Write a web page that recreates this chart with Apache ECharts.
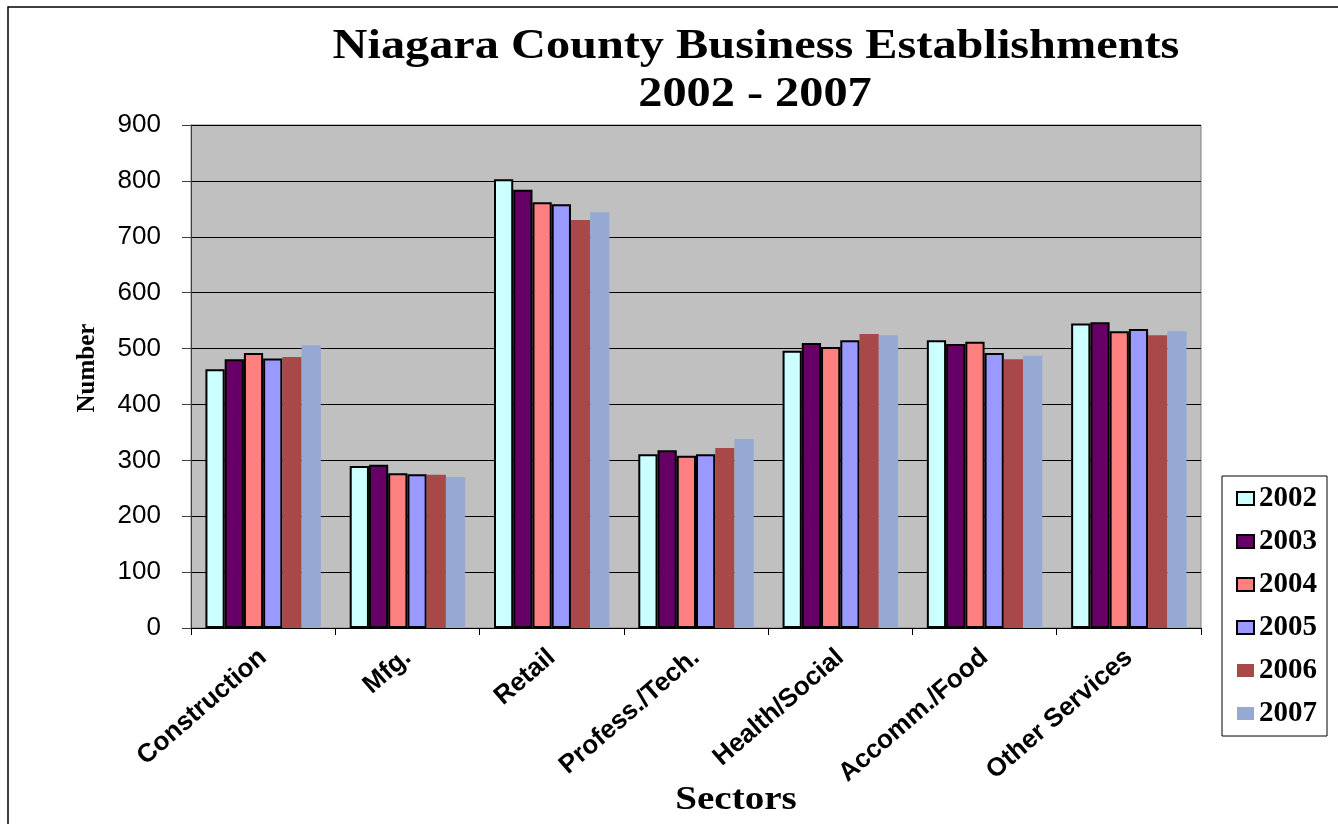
<!DOCTYPE html>
<html>
<head>
<meta charset="utf-8">
<script src="https://cdn.jsdelivr.net/npm/echarts@6/dist/echarts.min.js"></script>
<style>
    html, body { margin: 0; padding: 0; background: #fff; }
    #chart { width: 1338px; height: 824px; }
</style>
</head>
<body>
<div id="chart"></div>
<script>
    // 数据
    var sectors = ['Construction', 'Mfg.', 'Retail', 'Profess./Tech.', 'Health/Social', 'Accomm./Food', 'Other Services'];
    var years = ['2002', '2003', '2004', '2005', '2006', '2007'];
    var v2002 = [463, 290, 803, 311, 496, 515, 545];
    var v2003 = [481, 292, 784, 318, 510, 508, 547];
    var v2004 = [492, 277, 762, 308, 503, 512, 531];
    var v2005 = [482, 275, 758, 311, 515, 492, 535];
    var v2006 = [485, 274, 730, 322, 526, 481, 524];
    var v2007 = [506, 270, 744, 338, 524, 487, 531];
    var yTicks = [0, 100, 200, 300, 400, 500, 600, 700, 800, 900];

    var values = [v2002, v2003, v2004, v2005, v2006, v2007];
    var colors = ['#CCFFFF', '#660066', '#FF8080', '#9999FF', '#A94848', '#95A9D3'];
    var outlined = [true, true, true, true, false, false];

    var myChart = echarts.init(document.getElementById('chart'));

    var series = [];
    for (var i = 0; i < years.length; i++) {
        series.push({
            name: years[i],
            type: 'bar',
            data: values[i],
            barGap: '0%',
            barCategoryGap: '20%',
            itemStyle: {
                color: colors[i],
                borderColor: outlined[i] ? '#000' : colors[i],
                borderWidth: outlined[i] ? 2 : 0
            }
        });
    }

    var serifBold = {
        fontFamily: 'Liberation Serif',
        fontWeight: 'bold',
        fill: '#000'
    };

    myChart.setOption({
        animation: false,
        textStyle: { fontFamily: 'Liberation Sans' },
        legend: {
            orient: 'vertical',
            left: 1222,
            top: 476,
            width: 116,
            data: years,
            icon: 'rect',
            itemWidth: 17,
            itemHeight: 13,
            itemGap: 14,
            padding: [8, 10, 8, 14],
            backgroundColor: '#fff',
            borderColor: '#000',
            borderWidth: 1,
            borderRadius: 0,
            textStyle: {
                fontFamily: 'Liberation Serif',
                fontWeight: 'bold',
                fontSize: 29,
                color: '#000',
                padding: [0, 0, 0, 0]
            }
        },
        grid: {
            left: 191,
            right: 137,
            top: 125,
            bottom: 196,
            outerBoundsMode: 'none',
            show: true,
            backgroundColor: '#C0C0C0',
            borderColor: '#808080',
            borderWidth: 1
        },
        xAxis: {
            type: 'category',
            data: sectors,
            axisLine: { lineStyle: { color: '#000', width: 1 } },
            axisTick: { show: true, length: 7, lineStyle: { color: '#000' } },
            axisLabel: {
                interval: 0,
                rotate: 41,
                margin: 26,
                fontSize: 26,
                fontWeight: 'bold',
                color: '#000'
            }
        },
        yAxis: {
            type: 'value',
            min: yTicks[0],
            max: yTicks[yTicks.length - 1],
            interval: 100,
            axisLine: { show: true, lineStyle: { color: '#404040', width: 1 } },
            axisTick: { show: true, length: 9, lineStyle: { color: '#404040' } },
            axisLabel: { fontSize: 26, color: '#000', margin: 30 },
            splitLine: { show: true, lineStyle: { color: '#000', width: 1 } }
        },
        graphic: [
            {
                type: 'rect',
                shape: { x: 8, y: 7, width: 1340, height: 830 },
                style: { fill: 'none', stroke: '#000', lineWidth: 1.5 },
                silent: true,
                z: -1
            },
            {
                type: 'text',
                x: 756, y: 47,
                scaleX: 1.15,
                style: Object.assign({ text: 'Niagara County Business Establishments', fontSize: 42, align: 'center', verticalAlign: 'middle' }, serifBold)
            },
            {
                type: 'text',
                x: 755, y: 95,
                scaleX: 1.15,
                style: Object.assign({ text: '2002 - 2007', fontSize: 42, align: 'center', verticalAlign: 'middle' }, serifBold)
            },
            {
                type: 'text',
                x: 88, y: 368,
                rotation: Math.PI / 2,
                style: Object.assign({ text: 'Number', fontSize: 25, align: 'center', verticalAlign: 'middle' }, serifBold)
            },
            {
                type: 'text',
                x: 736, y: 800,
                scaleX: 1.15,
                style: Object.assign({ text: 'Sectors', fontSize: 34, align: 'center', verticalAlign: 'middle' }, serifBold)
            }
        ],
        series: series
    });
</script>
</body>
</html>
